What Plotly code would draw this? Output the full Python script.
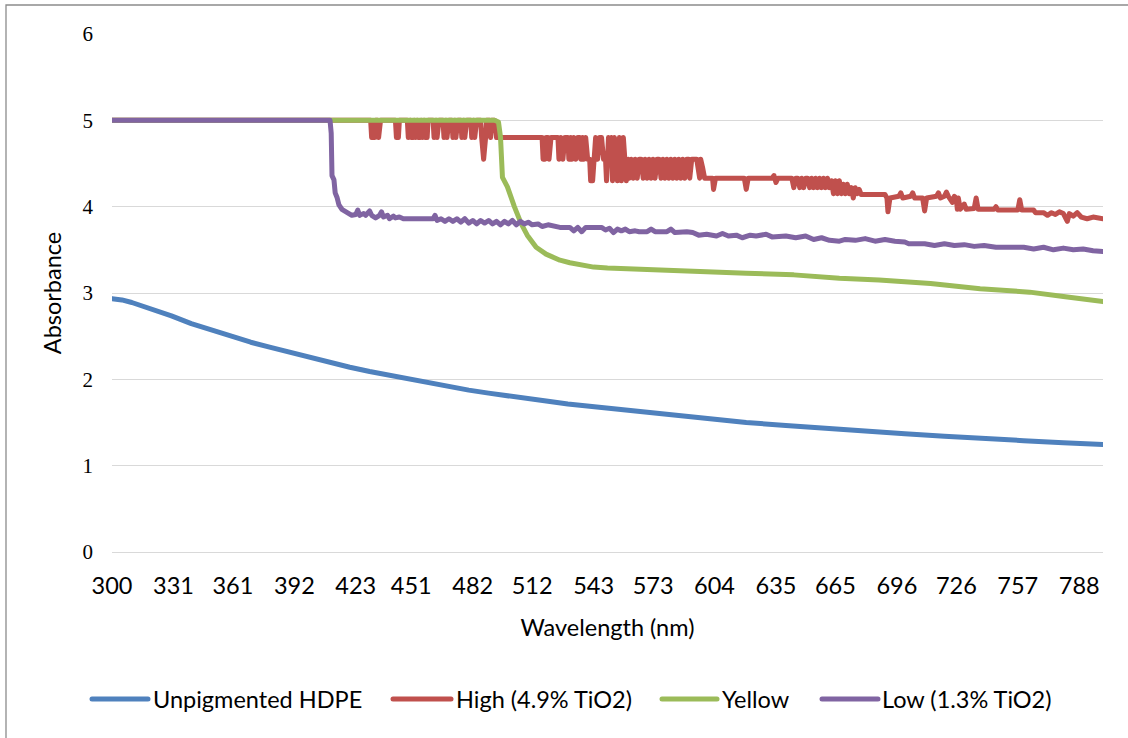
import plotly.graph_objects as go

# ---- wavelength (nm) / absorbance readings for each film ----
hdpe_nm = [300, 305, 310, 315, 320, 330, 340, 350, 360, 370, 380, 390, 400, 410, 420, 430, 440,
           450, 460, 470, 480, 490, 500, 510, 520, 530, 540, 550, 560, 570, 580, 590,
           600, 620, 640, 660, 680, 700, 720, 740, 760, 780, 800]
hdpe_abs = [2.935, 2.92, 2.89, 2.855, 2.815, 2.735, 2.645, 2.57, 2.50, 2.43, 2.37, 2.31, 2.25, 2.20, 2.14,
            2.09, 2.045, 2.00, 1.955, 1.915, 1.875, 1.84, 1.805, 1.775, 1.745, 1.715, 1.69, 1.665, 1.64,
            1.615, 1.59, 1.57, 1.545, 1.50, 1.465, 1.43, 1.40, 1.37, 1.34, 1.31, 1.29, 1.265, 1.245]

high_nm = [300, 430.5, 431, 432.5, 433, 434, 434.5, 435.5, 443, 443.5, 444.5, 445,
           449, 449.5, 450.5, 451, 452, 452.5, 453, 454, 454.5, 455.5, 456, 456.5, 457.5, 458, 459, 459.5,
           462, 462.5, 463.5, 464, 465, 467, 467.5, 468.5, 469, 470, 471.5, 472, 473, 473.5, 474.5,
           476, 476.5, 477.5, 478, 479, 481, 481.5, 482.5, 483, 484, 486, 486.5, 487.5, 488.5, 489,
           490.5, 491, 491.5, 493, 494, 517, 517.5, 518.5, 519, 520, 520.5, 521.5, 525, 525.5, 526.5,
           527.5, 528.5, 530, 530.5, 531.5, 532, 533, 534, 535, 536, 536.5, 537.5, 538, 539, 540, 541,
           541.5, 542.5, 543, 544, 545, 546, 547, 548, 549, 549.5, 550.5, 551, 552, 552.5, 553.5, 554.5,
           555, 556, 557, 558, 558.5, 559.5, 560.5, 561, 562, 563, 564, 565, 566, 567, 568, 569, 570,
           571, 572, 573, 574, 575, 576, 577, 578, 579, 580, 581, 582, 583, 584, 585, 586, 587, 588,
           589, 590, 591, 591.5, 592.5, 594, 595, 596.5, 597, 598, 599, 603, 603.5, 604.5, 619, 620,
           621, 633, 634, 635, 636, 643, 644, 645, 646, 647, 648, 649, 650, 651, 652, 653, 654, 655,
           656, 657, 658, 659, 660, 661, 662, 663, 664, 665, 666, 667, 668, 669, 670, 671, 672, 673,
           674, 675, 676, 677, 678, 690, 691, 691.5, 692.5, 697, 698, 699, 703, 704, 705, 709, 710,
           711, 716, 717, 718, 720, 721, 722, 724, 725, 726, 726.5, 727, 728, 730, 731, 735, 736, 737,
           745, 746, 747, 757, 758, 759, 765, 766, 770, 772, 774, 776, 778, 780, 782, 783, 785, 787,
           789, 792, 795, 798, 800]
high_abs = [5.0, 5.0, 4.8, 4.8, 5.0, 5.0, 4.8, 5.0, 5.0, 4.8, 4.8, 5.0,
            5.0, 4.8, 5.0, 4.8, 4.8, 5.0, 4.8, 5.0, 4.8, 4.8, 5.0, 4.8, 5.0, 4.8, 4.8, 5.0,
            5.0, 4.8, 5.0, 4.8, 5.0, 5.0, 4.8, 5.0, 4.8, 5.0, 5.0, 4.8, 5.0, 4.8, 5.0,
            5.0, 4.8, 5.0, 4.8, 5.0, 5.0, 4.8, 5.0, 4.8, 5.0, 5.0, 4.8, 4.55, 4.8, 5.0,
            5.0, 4.8, 5.0, 5.0, 4.8, 4.8, 4.55, 4.55, 4.8, 4.8, 4.55, 4.8, 4.8, 4.55, 4.8,
            4.55, 4.8, 4.8, 4.55, 4.8, 4.55, 4.8, 4.55, 4.8, 4.8, 4.55, 4.8, 4.55, 4.8, 4.55, 4.55,
            4.3, 4.3, 4.55, 4.8, 4.55, 4.8, 4.8, 4.55, 4.55, 4.3, 4.8, 4.55, 4.8, 4.3, 4.8, 4.55,
            4.3, 4.8, 4.3, 4.8, 4.55, 4.3, 4.55, 4.33, 4.55, 4.33, 4.55, 4.33, 4.55, 4.55, 4.33, 4.55, 4.33,
            4.55, 4.33, 4.55, 4.33, 4.55, 4.55, 4.33, 4.55, 4.33, 4.55, 4.33, 4.55, 4.33, 4.55, 4.33, 4.55, 4.33, 4.55,
            4.33, 4.55, 4.55, 4.33, 4.55, 4.55, 4.55, 4.33, 4.55, 4.45, 4.33, 4.33, 4.2, 4.33, 4.33, 4.2,
            4.33, 4.33, 4.36, 4.28, 4.33, 4.33, 4.22, 4.33, 4.33, 4.22, 4.33, 4.22, 4.33, 4.33, 4.22, 4.33, 4.22, 4.33,
            4.22, 4.33, 4.22, 4.33, 4.22, 4.33, 4.22, 4.30, 4.15, 4.30, 4.15, 4.30, 4.15, 4.26, 4.15, 4.26, 4.15, 4.22,
            4.10, 4.22, 4.15, 4.20, 4.14, 4.14, 4.10, 3.94, 4.10, 4.12, 4.16, 4.10, 4.12, 4.16, 4.10, 4.10, 3.95,
            4.10, 4.12, 4.16, 4.10, 4.12, 4.17, 4.12, 4.05, 4.12, 4.10, 3.97, 4.10, 3.97, 4.03, 3.97, 3.98, 4.10, 3.97,
            3.97, 4.00, 3.96, 3.96, 4.08, 3.96, 3.96, 3.93, 3.93, 3.90, 3.93, 3.91, 3.94, 3.92, 3.83, 3.92, 3.89, 3.93,
            3.88, 3.86, 3.88, 3.86, 3.86]

yellow_nm = [300, 493, 495, 496, 497, 499.5, 503, 506.5, 509.5, 514, 519, 526, 531, 537, 543, 550, 560,
             576, 600, 620, 644, 667, 687, 713, 738, 763, 780, 800]
yellow_abs = [5.0, 5.0, 4.98, 4.81, 4.34, 4.23, 4.00, 3.80, 3.67, 3.53, 3.45, 3.38, 3.35, 3.32, 3.30, 3.29, 3.28,
              3.26, 3.245, 3.23, 3.21, 3.17, 3.15, 3.11, 3.05, 3.01, 2.96, 2.90]

low_nm = [300, 410, 410.6, 411, 412, 412.6, 413.5, 414.5, 416, 418, 420, 421, 423, 424, 425, 427, 428,
          430, 431, 433, 435, 436, 437, 439, 440, 442, 443, 445, 447, 462, 463, 464, 466, 468, 470,
          472, 474, 476, 478, 480, 482, 484, 486, 488, 490, 492, 494, 496, 498, 500, 502, 504, 506,
          508, 510, 512, 515, 517, 520, 523, 526, 531, 533, 535, 537, 539, 547, 549, 551, 553, 555,
          557, 559, 561, 564, 566, 570, 572, 574, 580, 582, 584, 590, 593, 596, 600, 605, 608, 611,
          615, 618, 622, 625, 630, 633, 640, 645, 650, 654, 658, 662, 667, 670, 675, 680, 685, 690,
          695, 700, 702, 710, 715, 720, 725, 730, 735, 740, 746, 750, 755, 760, 765, 770, 775, 780,
          785, 790, 795, 800]
low_abs = [5.0, 5.0, 4.85, 4.36, 4.31, 4.16, 4.11, 4.02, 3.97, 3.94, 3.92, 3.90, 3.91, 3.96, 3.90, 3.92, 3.90,
           3.95, 3.90, 3.87, 3.90, 3.94, 3.88, 3.90, 3.86, 3.89, 3.87, 3.88, 3.86, 3.86, 3.90, 3.84, 3.86, 3.83, 3.86,
           3.83, 3.86, 3.82, 3.86, 3.81, 3.84, 3.80, 3.84, 3.81, 3.84, 3.80, 3.83, 3.79, 3.83, 3.80, 3.84, 3.79, 3.83,
           3.80, 3.82, 3.79, 3.80, 3.77, 3.79, 3.77, 3.76, 3.76, 3.72, 3.76, 3.71, 3.76, 3.76, 3.73, 3.75, 3.70, 3.74,
           3.72, 3.74, 3.71, 3.72, 3.71, 3.71, 3.74, 3.71, 3.71, 3.74, 3.70, 3.71, 3.70, 3.67, 3.68, 3.66, 3.69, 3.66,
           3.67, 3.64, 3.67, 3.66, 3.68, 3.65, 3.66, 3.64, 3.66, 3.62, 3.64, 3.61, 3.60, 3.62, 3.61, 3.63, 3.60, 3.62,
           3.60, 3.59, 3.57, 3.57, 3.55, 3.57, 3.55, 3.56, 3.54, 3.55, 3.53, 3.53, 3.52, 3.53, 3.51, 3.53, 3.50, 3.52,
           3.50, 3.51, 3.49, 3.48]

tick_nm = [300, 331, 361, 392, 423, 451, 482, 512, 543, 573, 604, 635, 665, 696, 726, 757, 788]

series = [
    ("Unpigmented HDPE", hdpe_nm, hdpe_abs, "#4F81BD"),
    ("High (4.9% TiO2)", high_nm, high_abs, "#C0504D"),
    ("Yellow", yellow_nm, yellow_abs, "#9BBB59"),
    ("Low (1.3% TiO2)", low_nm, low_abs, "#8064A2"),
]

# ---- page geometry (pixels) ----
W, H = 1128, 738
L, R, T, B = 112, 25, 34, 186
PW, PH = W - L - R, H - T - B

def px(x):
    return (x - L) / PW

def py(y):
    return (H - B - y) / PH

SANS = "Lato"
SERIF = "Liberation Serif"
TXT = 23.5

fig = go.Figure()
for name, xs, ys, col in series:
    fig.add_trace(go.Scatter(x=xs, y=ys, name=name, mode="lines",
                             line=dict(color=col, width=5),
                             showlegend=False, hoverinfo="skip"))

fig.update_layout(
    width=W, height=H,
    margin=dict(l=L, r=R, t=T, b=B, autoexpand=False),
    paper_bgcolor="white", plot_bgcolor="white",
    xaxis=dict(range=[300, 800], tickmode="array", tickvals=tick_nm,
               ticktext=[str(v) for v in tick_nm],
               showgrid=False, zeroline=False, showline=False, ticks="",
               ticklabelstandoff=17,
               tickfont=dict(family=SANS, size=TXT, color="#000000"),
               title=dict(text="Wavelength (nm)", standoff=22,
                          font=dict(family=SANS, size=TXT, color="#000000"))),
    yaxis=dict(range=[0, 6], dtick=1, showgrid=True, gridcolor="#D9D9D9", gridwidth=1.2,
               zeroline=True, zerolinecolor="#D9D9D9", zerolinewidth=1.2,
               showline=False, ticks="", ticklabelstandoff=18,
               tickfont=dict(family=SERIF, size=21, color="#000000"),
               title=dict(text="Absorbance", standoff=14,
                          font=dict(family=SANS, size=TXT, color="#000000"))),
)

# outer chart frame
fig.add_shape(type="rect", xref="paper", yref="paper",
              x0=px(6), x1=px(W + 10), y0=py(H + 10), y1=py(5),
              line=dict(color="#8C8C8C", width=1.3), fillcolor="rgba(0,0,0,0)", layer="above")

# legend row beneath the axis title
legend_items = [(92, 148, 151), (393, 451, 454), (662, 717, 720), (822, 878, 880)]
ly = 699
for (name, _, _, col), (x0, x1, xt) in zip(series, legend_items):
    fig.add_shape(type="line", xref="paper", yref="paper",
                  x0=px(x0), x1=px(x1), y0=py(ly), y1=py(ly),
                  line=dict(color=col, width=5))
    fig.add_annotation(text=name, xref="paper", yref="paper", x=px(xt), y=py(ly),
                       xanchor="left", yanchor="middle", showarrow=False,
                       font=dict(family=SANS, size=TXT, color="#000000"))

round_joins = ("var s=document.createElement('style');"
               "s.textContent='.scatterlayer .js-line{stroke-linejoin:round;stroke-linecap:round}"
               " .shapelayer path{stroke-linecap:round}';"
               "document.head.appendChild(s);")

fig.write_html("out.html", post_script=round_joins)
